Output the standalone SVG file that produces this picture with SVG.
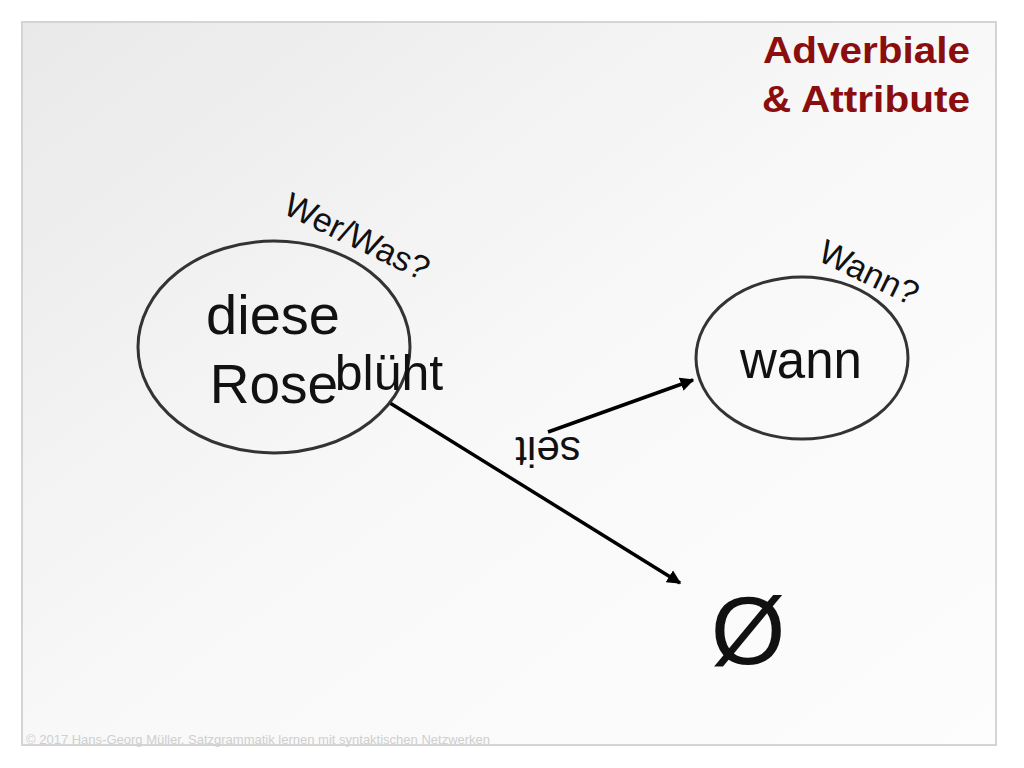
<svg xmlns="http://www.w3.org/2000/svg" width="1024" height="768" viewBox="0 0 1024 768">
<defs>
<linearGradient id="bg" x1="0" y1="0" x2="1" y2="1"><stop offset="0" stop-color="#e9e9e9"/><stop offset="0.5" stop-color="#f8f8f8"/><stop offset="1" stop-color="#fdfdfd"/></linearGradient>
<marker id="ah" viewBox="0 0 10 10" refX="9" refY="5" markerWidth="4" markerHeight="4" orient="auto"><path d="M0,0 L10,5 L0,10 z" fill="#000"/></marker>
<style>
.t{font-family:"Liberation Sans",Arial,sans-serif;fill:#111}
.node{fill:none;stroke:#333;stroke-width:3}
.c{stroke:#000;stroke-width:3.5;fill:none;marker-end:url(#ah)}
</style>
</defs>
<rect width="1024" height="768" fill="#fff"/>
<rect x="22" y="22" width="974" height="723" fill="url(#bg)" stroke="#d4d4d4" stroke-width="2"/>
<text class="t" x="970" y="63" font-size="37" font-weight="bold" style="fill:#8b0e0e" text-anchor="end" textLength="207" lengthAdjust="spacingAndGlyphs">Adverbiale</text>
<text class="t" x="970" y="112" font-size="37" font-weight="bold" style="fill:#8b0e0e" text-anchor="end" textLength="208" lengthAdjust="spacingAndGlyphs">&amp; Attribute</text>
<g id="connectors">
<line class="c" x1="390" y1="403" x2="680" y2="583"/>
<line class="c" x1="548" y1="432" x2="693" y2="380"/>
<text class="t" font-size="42" text-anchor="middle" transform="translate(548,437) rotate(180)">seit</text>
</g>
<g id="node-rose">
<ellipse class="node" cx="274" cy="347" rx="136" ry="106"/>
<text class="t" x="273" y="334" font-size="56" text-anchor="middle">diese</text>
<text class="t" x="274" y="403" font-size="55" text-anchor="middle">Rose</text>
<text class="t" x="389" y="390" font-size="50" text-anchor="middle">blüht</text>
<text class="t" font-size="34" text-anchor="middle" transform="translate(352,247) rotate(26)">Wer/Was?</text>
</g>
<g id="node-wann">
<ellipse class="node" cx="802" cy="358" rx="106" ry="81"/>
<text class="t" x="801" y="378" font-size="51" text-anchor="middle">wann</text>
<text class="t" font-size="34" text-anchor="middle" transform="translate(864,283) rotate(26)">Wann?</text>
</g>
<g id="node-empty">
<text class="t" x="748" y="664" font-size="96" text-anchor="middle">Ø</text>
</g>
<text class="t" x="26" y="744" font-size="13" style="fill:#cfcfcf">© 2017 Hans-Georg Müller, Satzgrammatik lernen mit syntaktischen Netzwerken</text>
</svg>
